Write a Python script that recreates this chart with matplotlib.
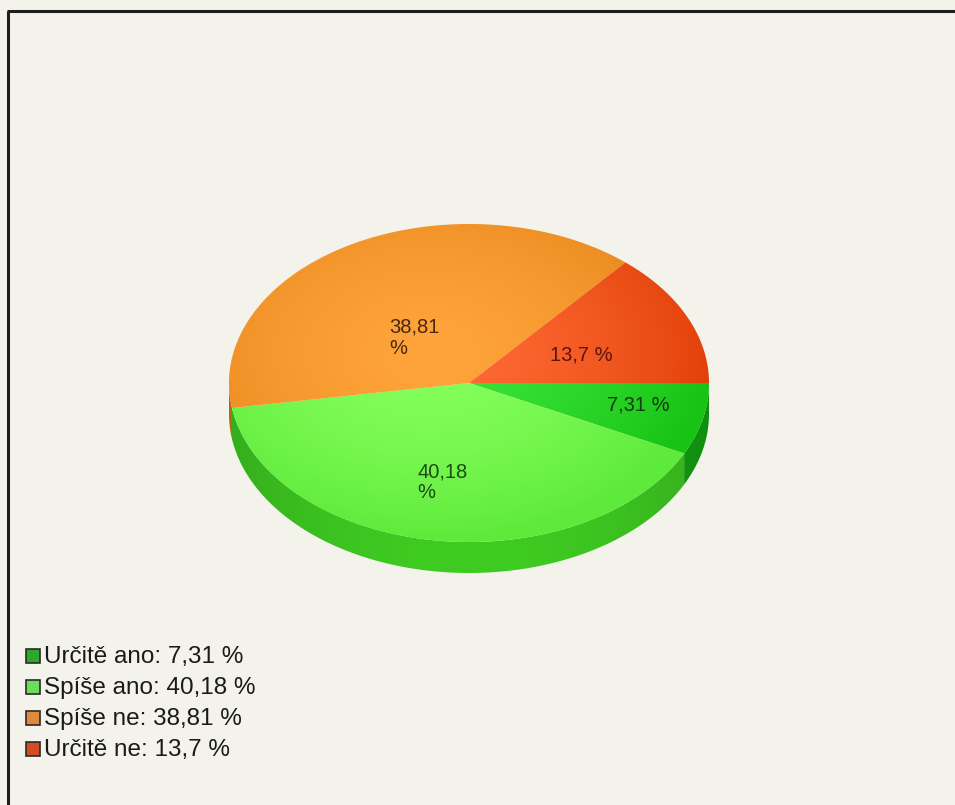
import numpy as np
import matplotlib
matplotlib.use("Agg")
import matplotlib.pyplot as plt
from matplotlib.patches import Polygon, Rectangle
from matplotlib.lines import Line2D
from matplotlib.colors import to_rgb

# ---- data ----
categories = ["Určitě ano", "Spíše ano", "Spíše ne", "Určitě ne"]
shares = [7.31, 40.18, 38.81, 13.7]
value_labels = ["7,31 %", "40,18\n%", "38,81\n%", "13,7 %"]
legend_values = ["7,31 %", "40,18 %", "38,81 %", "13,7 %"]

# ---- style ----
top_center = ["#3BE33A", "#86FF5C", "#FFA43A", "#FF6A34"]
top_edge = ["#17C414", "#5EEA3A", "#E6861A", "#E2420A"]
side_col = ["#12A812", "#3FCC22", "#D47A14", "#C83A08"]
legend_col = ["#2DA82D", "#6BDD58", "#E0893A", "#D24B22"]
label_col = ["#103A10", "#1E4A18", "#4A2810", "#5A1410"]
label_offsets = [(29, 0), (-30, 5), (-10, 38), (-19, 12)]
label_ha = ["center", "left", "left", "center"]

bg = "#F4F3EB"
W, H = 955, 805
cx, cy, a, b, depth = 469.0, 383.0, 240.0, 159.0, 31.0
font = ["Liberation Sans", "DejaVu Sans"]

fig = plt.figure(figsize=(W / 100, H / 100), dpi=100)
fig.patch.set_facecolor(bg)
ax = fig.add_axes([0, 0, 1, 1])
ax.axis("off")
ax.set_facecolor(bg)

frac = np.array(shares) / np.sum(shares)
bounds = np.concatenate([[0.0], np.cumsum(frac)]) * 360.0


def ell(theta_deg, dy=0.0):
    t = np.radians(theta_deg)
    return np.column_stack([cx + a * np.cos(t), cy + b * np.sin(t) + dy])


def grad_image(c0, c1, x0, x1, y0, y1, mode="radial"):
    xs = np.arange(x0, x1 + 1)
    ys = np.arange(y0, y1 + 1)
    X, Y = np.meshgrid(xs, ys)
    if mode == "radial":
        r = np.sqrt(((X - cx + 40) / (a + 40)) ** 2 + ((Y - cy + 30) / (b + 30)) ** 2)
        t = np.clip(r, 0, 1) ** 1.6
    else:
        t = np.clip(np.abs(X - cx) / a, 0, 1) ** 2
    c0 = np.array(to_rgb(c0))
    c1 = np.array(to_rgb(c1))
    return c0[None, None, :] * (1 - t[..., None]) + c1[None, None, :] * t[..., None]


x0, x1 = int(cx - a - 2), int(cx + a + 2)
y0, y1 = int(cy - b - 2), int(cy + b + depth + 2)
extent = (x0 - 0.5, x1 + 0.5, y1 + 0.5, y0 - 0.5)

# side walls (front half only)
for i in range(len(shares)):
    s, e = max(bounds[i], 0.0), min(bounds[i + 1], 180.0)
    if e <= s:
        continue
    th = np.linspace(s, e, 120)
    pts = np.vstack([ell(th), ell(th[::-1], depth)])
    poly = Polygon(pts, closed=True, facecolor="none", edgecolor="none")
    ax.add_patch(poly)
    dark = tuple(np.array(to_rgb(side_col[i])) * 0.85)
    img = grad_image(side_col[i], dark, x0, x1, y0, y1, mode="side")
    im = ax.imshow(img, extent=extent, zorder=2, interpolation="bilinear")
    im.set_clip_path(poly)

# top faces
for i in range(len(shares)):
    th = np.linspace(bounds[i], bounds[i + 1], 240)
    pts = np.vstack([[cx, cy], ell(th)])
    poly = Polygon(pts, closed=True, facecolor="none", edgecolor="none")
    ax.add_patch(poly)
    img = grad_image(top_center[i], top_edge[i], x0, x1, y0, y1)
    im = ax.imshow(img, extent=extent, zorder=3, interpolation="bilinear")
    im.set_clip_path(poly)

ax.set_xlim(0, W)
ax.set_ylim(H, 0)
ax.set_aspect("auto")

# frame lines along the top and left, in figure coordinates
fx = 8.0 / W
fy = 1.0 - 11.0 / H
fig.add_artist(Line2D([fx, fx], [0.0, fy], transform=fig.transFigure,
                      color="#1e1e1e", lw=2.2, solid_capstyle="butt"))
fig.add_artist(Line2D([fx - 1.0 / W, 1.0], [fy, fy], transform=fig.transFigure,
                      color="#1e1e1e", lw=2.2, solid_capstyle="butt"))

# value labels on slices
for i in range(len(shares)):
    mid = 0.5 * (bounds[i] + bounds[i + 1])
    p = ell(np.array([mid]))[0]
    lx = cx + (p[0] - cx) * 0.6 + label_offsets[i][0]
    ly = cy + (p[1] - cy) * 0.6 + label_offsets[i][1]
    ax.text(lx, ly, value_labels[i], ha=label_ha[i], va="center",
            fontsize=14.5, family=font, color=label_col[i],
            linespacing=1.12, zorder=5)

# legend
for i, cat in enumerate(categories):
    y = 656 + i * 31
    ax.add_patch(Rectangle((26, y - 7), 13.5, 13.5, facecolor=legend_col[i],
                           edgecolor="#2a2a2a", lw=1.2, zorder=5))
    ax.text(44, y + 1, f"{cat}: {legend_values[i]}", ha="left", va="center",
            fontsize=17.5, family=font, color="#1a1a1a", zorder=5)

fig.savefig("out.png", dpi=100, facecolor=bg)
